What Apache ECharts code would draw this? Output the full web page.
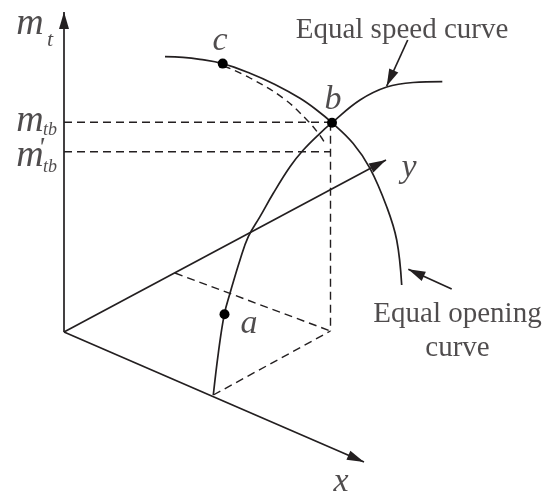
<!DOCTYPE html>
<html>
<head>
<meta charset="utf-8">
<script src="https://cdn.jsdelivr.net/npm/echarts@6/dist/echarts.min.js"></script>
<style>
  html, body { margin: 0; padding: 0; background: #fff; }
  #chart { width: 560px; height: 493px; }
</style>
</head>
<body>
<div id="chart"></div>
<script>
// diagram coordinates (x to the right, y downward)
const origin = [64, 332];
const mtTip = [64, 12];
const xTip = [364, 462];
const yTip = [386, 160];

const openingCurve = [[165, 56.7], [183, 57.3], [200, 59.3], [222.7, 63.6], [250, 73.3], [275, 84.5], [300, 98.3], [316, 109.5], [332, 122.7], [353, 143.3], [370, 168.3], [386.7, 206.7], [396.7, 240], [401.7, 285]];
const speedCurve = [[213.3, 395], [218.3, 353.3], [224.3, 314.3], [230, 293.3], [240, 260], [248.3, 236.7], [260, 216.7], [273.3, 193.3], [290, 166.7], [303.3, 150], [320, 133.3], [332, 122.7], [360, 100], [386.7, 87], [413, 82.5], [442.3, 81.7]];
const dashedArc = [[224, 66], [250, 78], [283, 98], [307, 120], [320, 135.5], [325, 143.3]];

const guideLines = [
  [[64, 122.2], [332, 122.2]],
  [[64, 151.7], [330.5, 151.7]],
  [[330.5, 122.7], [330.5, 331]],
  [[175, 273], [330.5, 331]],
  [[213.3, 395], [330.5, 331]]
];
const arrows = [
  [origin, mtTip],
  [origin, xTip],
  [origin, yTip],
  [[407.7, 40], [386.7, 86]],
  [[451.7, 289], [408.3, 269.3]]
];
const dots = [[222.7, 63.6], [332, 122.7], [224.5, 314.3]];

// text: [text, x, y, size, italic]
const annotations = [
  ['m', 30, 24, 38, true],
  ['t', 50, 40, 22, true],
  ['m', 30, 121, 38, true],
  ['tb', 50, 130, 18, true],
  ['m', 30, 156, 38, true],
  ["'", 41, 149, 28, true],
  ['tb', 50, 167, 18, true],
  ['c', 220, 41, 34, true],
  ['b', 333, 100, 34, true],
  ['a', 249, 324, 34, true],
  ['x', 341, 482, 34, true],
  ['y', 409, 168, 34, true],
  ['Equal speed curve', 402, 30, 29, false],
  ['Equal opening', 457.5, 314, 29, false],
  ['curve', 457.5, 348, 29, false]
];

const ink = '#231f20';
const chart = echarts.init(document.getElementById('chart'));

const series = [];
[openingCurve, speedCurve].forEach((pts) => {
  series.push({
    type: 'line',
    data: pts,
    smooth: 0.4,
    showSymbol: false,
    lineStyle: { color: ink, width: 1.7 }
  });
});
series.push({
  type: 'line',
  data: dashedArc,
  smooth: 0.4,
  showSymbol: false,
  lineStyle: { color: ink, width: 1.4, type: [7, 5] }
});
guideLines.forEach((seg) => {
  series.push({
    type: 'line',
    data: seg,
    showSymbol: false,
    lineStyle: { color: ink, width: 1.4, type: [8, 5] }
  });
});
series.push({
  type: 'lines',
  coordinateSystem: 'cartesian2d',
  symbol: ['none', 'path://M5 0M5 17L10 34L0 34Z'],
  symbolSize: [0, [10, 34]],
  lineStyle: { color: ink, width: 1.7, opacity: 1, curveness: 0 },
  data: arrows.map((a) => ({ coords: a }))
});
series.push({
  type: 'scatter',
  data: dots,
  symbolSize: 10,
  itemStyle: { color: '#000', opacity: 1 },
  z: 5
});
series.push({
  type: 'scatter',
  symbolSize: 0,
  labelLayout: { hideOverlap: false },
  data: annotations.map((t) => ({
    name: t[0],
    value: [t[1], t[2]],
    label: {
      show: true,
      position: 'inside',
      formatter: (p) => p.name,
      color: ink,
      fontFamily: 'Liberation Serif',
      fontStyle: t[4] ? 'italic' : 'normal',
      fontSize: t[3],
      align: 'center',
      verticalAlign: 'middle'
    }
  }))
});

const option = {
  animation: false,
  backgroundColor: '#fff',
  grid: { left: 0, right: 0, top: 0, bottom: 0 },
  xAxis: { type: 'value', min: 0, max: 560, show: false },
  yAxis: { type: 'value', min: 0, max: 493, inverse: true, show: false },
  series: series
};
chart.setOption(option);
</script>
</body>
</html>
